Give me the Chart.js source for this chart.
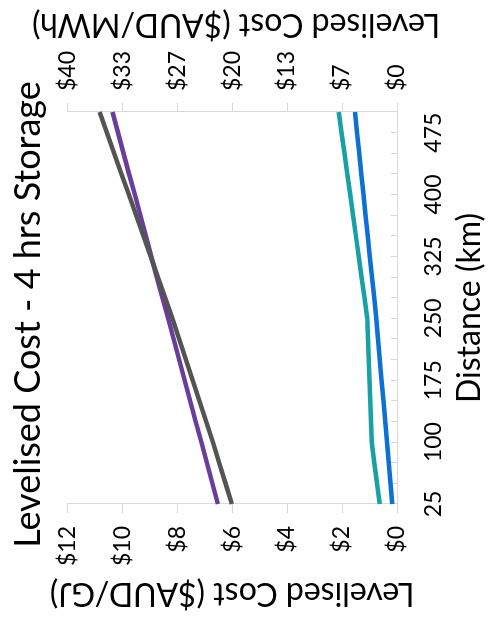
<!DOCTYPE html>
<html><head><meta charset="utf-8">
<script src="https://cdn.jsdelivr.net/npm/chart.js@4/dist/chart.umd.min.js"></script>
<style>
html,body{margin:0;padding:0;background:#fff;overflow:hidden;width:491px;height:629px;}
#wrap{position:absolute;left:0;top:0;width:629px;height:491px;transform-origin:0 0;transform:translate(0,629px) rotate(-90deg);}
canvas{display:block;}
</style></head><body>
<div id="wrap"><canvas id="c" width="629" height="491"></canvas></div>
<script>
// Distance categories (km)
const distances = [25,50,75,100,125,150,175,200,225,250,275,300,325,350,375,400,425,450,475,500];
const labelEvery = 3;
// Series values ($AUD/GJ)
const seriesGray   = [6.01,6.24,6.47,6.70,6.945,7.19,7.435,7.68,7.925,8.17,8.435,8.70,8.965,9.23,9.495,9.76,10.025,10.29,10.555,10.82];
const seriesPurple = [6.52,6.72,6.92,7.12,7.33,7.53,7.73,7.93,8.13,8.33,8.54,8.74,8.94,9.14,9.34,9.54,9.75,9.95,10.15,10.35];
const seriesTeal   = [0.63,0.73,0.83,0.92,0.947,0.973,1.00,1.027,1.053,1.08,1.184,1.288,1.392,1.496,1.60,1.704,1.808,1.912,2.016,2.12];
const seriesBlue   = [0.17,0.235,0.30,0.365,0.43,0.495,0.56,0.625,0.69,0.755,0.83,0.91,0.99,1.065,1.145,1.22,1.30,1.375,1.455,1.53];
// Tick labels
const gjTickLabels  = ['$0','$2','$4','$6','$8','$10','$12'];
const mwhTickLabels = ['$0','$7','$13','$20','$27','$33','$40'];
const titleText = 'Levelised Cost - 4 hrs Storage';
const xTitle = 'Distance (km)';
const yTitle = 'Levelised Cost ($AUD/GJ)';
const y2Title = 'Levelised Cost ($AUD/MWh)';

const FONT = 'Lato';
const AXIS = '#d9d9d9';

const rightTitlePlugin = {
  id: 'rightTitle',
  afterDraw(chart) {
    const s = chart.scales.y2;
    const ctx = chart.ctx;
    ctx.save();
    ctx.font = '32px ' + FONT;
    ctx.fillStyle = '#000';
    ctx.textAlign = 'center';
    ctx.textBaseline = 'middle';
    ctx.translate(s.right - 24, (chart.chartArea.top + chart.chartArea.bottom) / 2 + 4);
    ctx.rotate(-Math.PI / 2);
    ctx.fillText(y2Title, 0, 0);
    ctx.restore();
  }
};

const ds = (data, color) => ({data, borderColor: color, backgroundColor: color, borderWidth: 4.5, pointRadius: 0, tension: 0, fill: false, yAxisID: 'y'});

new Chart(document.getElementById('c'), {
  type: 'line',
  data: {
    labels: distances.map(String),
    datasets: [
      ds(seriesGray, '#545454'),
      ds(seriesPurple, '#6a3c9c'),
      ds(seriesTeal, '#17a1a4'),
      ds(seriesBlue, '#0c70d4')
    ]
  },
  options: {
    responsive: false,
    animation: false,
    devicePixelRatio: 1,
    layout: {padding: 0},
    plugins: {
      legend: {display: false},
      tooltip: {enabled: false},
      title: {display: true, text: titleText, color: '#000', font: {family: FONT, size: 36, weight: 'normal'}, padding: {top: 7, bottom: 17}}
    },
    scales: {
      x: {
        type: 'category', offset: false,
        grid: {display: true, drawOnChartArea: false, drawTicks: true, tickLength: -6, color: AXIS},
        border: {display: true, color: AXIS},
        ticks: {autoSkip: false, maxRotation: 0, minRotation: 0, padding: 29, color: '#000', font: {family: FONT, size: 23},
          callback: (v, i) => (i % labelEvery === 0 ? distances[i] : '')},
        title: {display: true, text: xTitle, color: '#000', font: {family: FONT, size: 32}, padding: {top: 0, bottom: 2}},
        afterFit: s => { s.height = 94; }
      },
      y: {
        position: 'left', min: 0, max: 12,
        grid: {display: true, drawOnChartArea: false, drawTicks: true, tickLength: 9, color: AXIS},
        border: {display: true, color: AXIS},
        ticks: {stepSize: 2, padding: 13, color: '#000', font: {family: FONT, size: 23}, callback: (v, i) => gjTickLabels[i]},
        title: {display: true, text: yTitle, color: '#000', font: {family: FONT, size: 32}, padding: {top: 16, bottom: 0}},
        afterFit: s => { s.width = 125; }
      },
      y2: {
        position: 'right', min: 0, max: 40,
        grid: {display: true, drawOnChartArea: false, drawTicks: true, tickLength: 9, color: AXIS},
        border: {display: true, color: AXIS},
        ticks: {stepSize: 40 / 6, padding: 12, color: '#000', font: {family: FONT, size: 23}, callback: (v, i) => mwhTickLabels[i]},
        afterFit: s => { s.width = 112; }
      }
    }
  },
  plugins: [rightTitlePlugin]
});
</script>
</body></html>
